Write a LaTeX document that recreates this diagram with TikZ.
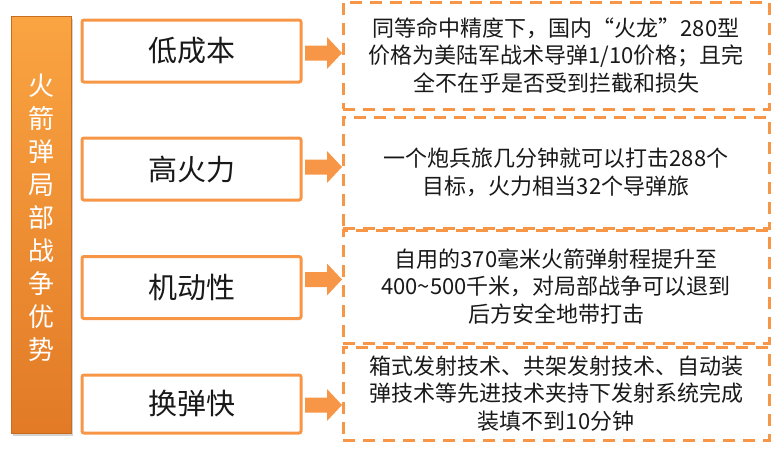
\documentclass[tikz,border=0pt]{standalone}
\usepackage{fontspec}
\newfontfamily\cjk{Noto Sans CJK SC}
\usetikzlibrary{calc,shadows}
\definecolor{acc}{RGB}{247,150,70}
\definecolor{txt}{RGB}{25,25,25}
\definecolor{bartop}{RGB}{250,164,66}
\definecolor{barbot}{RGB}{226,122,38}
\definecolor{baredge}{RGB}{200,108,30}
\begin{document}
\begin{tikzpicture}[x=1pt,y=-1pt,
  bar/.style={top color=bartop, bottom color=barbot, draw=baredge, line width=0.8pt,
    minimum width=60pt, minimum height=417pt, inner sep=0pt, outer sep=0pt,
    drop shadow={opacity=0.35, shadow xshift=1.5pt, shadow yshift=-3pt}},
  bartext/.style={text=white, align=center, inner sep=0pt, font=\cjk\fontsize{26}{33}\selectfont},
  catbox/.style={draw=acc, line width=3pt, rounded corners=2pt, minimum width=219pt,
    minimum height=62pt, outer sep=0pt, inner sep=0pt, fill=white, text=txt,
    font=\cjk\fontsize{29}{32}\selectfont},
  descbox/.style={draw=acc, line width=3pt, dash pattern=on 12pt off 8pt, minimum width=426pt,
    outer sep=0pt, inner sep=0pt, align=center, text=txt,
    font=\cjk\fontsize{22}{27.5}\selectfont},
  blockarrow/.style={fill=acc}]
\useasboundingbox (0,0) rectangle (772,448);

\node[bar] (bar) at (41,224.5) {};
\node[bartext] (title) at (41,217.5) {火\\箭\\弹\\局\\部\\战\\争\\优\\势};

\node[catbox] (c1) at (191.5,51) {低成本};
\node[catbox] (c2) at (191.5,169) {高火力};
\node[catbox] (c3) at (191.5,287.5) {机动性};
\node[catbox, minimum height=58pt] (c4) at (191.5,404) {换弹快};

\node[descbox, minimum height=107pt] (d1) at (556,55.5) {同等命中精度下，国内“火龙”280型\\价格为美陆军战术导弹1/10价格；且完\\全不在乎是否受到拦截和损失};
\node[descbox, minimum height=111pt] (d2) at (556,172.5) {一个炮兵旅几分钟就可以打击288个\\目标，火力相当32个导弹旅};
\node[descbox, minimum height=113pt] (d3) at (556,286.5) {自用的370毫米火箭弹射程提升至\\400\textasciitilde500千米，对局部战争可以退到\\后方安全地带打击};
\node[descbox, minimum height=93pt] (d4) at (556,393.5) {箱式发射技术、共架发射技术、自动装\\弹技术等先进技术夹持下发射系统完成\\装填不到10分钟};

\fill[blockarrow, shift={($(c1.east)+(4,2)$)}] (0,-7.5) -- (22,-7.5) -- (22,-16) -- (37,0) -- (22,16) -- (22,7.5) -- (0,7.5) -- cycle;
\fill[blockarrow, shift={($(c2.east)+(4,-2)$)}] (0,-7.5) -- (22,-7.5) -- (22,-16) -- (37,0) -- (22,16) -- (22,7.5) -- (0,7.5) -- cycle;
\fill[blockarrow, shift={($(c3.east)+(4,-8)$)}] (0,-7.5) -- (22,-7.5) -- (22,-16) -- (37,0) -- (22,16) -- (22,7.5) -- (0,7.5) -- cycle;
\fill[blockarrow, shift={($(c4.east)+(4,1)$)}] (0,-7.5) -- (22,-7.5) -- (22,-16) -- (37,0) -- (22,16) -- (22,7.5) -- (0,7.5) -- cycle;
\end{tikzpicture}
\end{document}
